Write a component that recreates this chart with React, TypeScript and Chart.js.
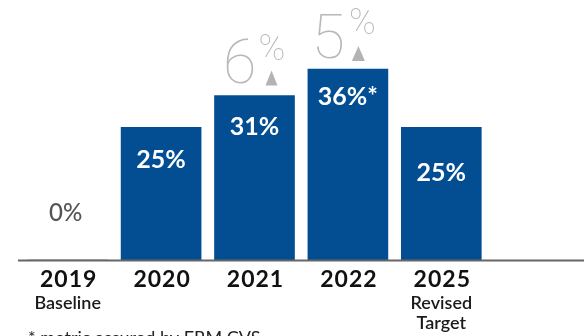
import React, { useEffect, useRef } from "react";
import { Chart, registerables } from "chart.js";

Chart.register(...registerables);

const years = ["2019", "2020", "2021", "2022", "2025"];
const subLabels: string[][] = [["Baseline"], [], [], [], ["Revised", "Target"]];
const values = [0, 25, 31, 36, 25];
const valueLabels = ["0%", "25%", "31%", "36%*", "25%"];
const increaseDigits = ["", "", "6", "5", ""];
const footnote = "* metric assured by ERM CVS";

const BLUE = "#034e93";
const GRAY_LIGHT = "#b8b8b8";
const TRI = "#b3b3b3";

// layout tweaks per bar (styling only)
const labelOffsets = [0, 32.5, 31, 28, 46];
const incStyle: Record<number, any> = {
  2: { dRight: 2, dBase: 13, pctLeft: 4, pctBase: 36, triL: 11, triR: 23, triT: 25, triB: 10 },
  3: { dRight: -3, dBase: 11, pctLeft: 1, pctBase: 35, triL: 4, triR: 17, triT: 23, triB: 8 },
};

const overlay = {
  id: "overlay",
  afterDatasetsDraw(chart: any) {
    const ctx = chart.ctx as CanvasRenderingContext2D;
    const meta = chart.getDatasetMeta(0);
    const area = chart.chartArea;
    ctx.save();
    // baseline axis line
    ctx.strokeStyle = "#666666";
    ctx.lineWidth = 2;
    ctx.beginPath();
    ctx.moveTo(18, area.bottom + 0.5);
    ctx.lineTo(chart.width, area.bottom + 0.5);
    ctx.stroke();

    meta.data.forEach((bar: any, i: number) => {
      const cx = bar.x;
      const ty = bar.y;
      // value labels
      ctx.textAlign = "center";
      ctx.textBaseline = "middle";
      if (values[i] === 0) {
        ctx.fillStyle = "#555555";
        ctx.font = "500 24px Lato";
        ctx.fillText(valueLabels[i], cx - 2, area.bottom - 47);
      } else {
        ctx.fillStyle = "#ffffff";
        ctx.font = "bold 25px Lato";
        ctx.fillText(valueLabels[i], cx, ty + labelOffsets[i]);
      }
      // increase labels
      const s = incStyle[i];
      if (increaseDigits[i] && s) {
        ctx.fillStyle = GRAY_LIGHT;
        ctx.textBaseline = "alphabetic";
        ctx.textAlign = "right";
        ctx.font = "100 61px Roboto";
        ctx.fillText(increaseDigits[i], cx + s.dRight, ty - s.dBase);
        ctx.textAlign = "left";
        ctx.font = "100 36px Roboto";
        ctx.fillText("%", cx + s.pctLeft, ty - s.pctBase);
        ctx.fillStyle = TRI;
        ctx.beginPath();
        ctx.moveTo(cx + (s.triL + s.triR) / 2, ty - s.triT);
        ctx.lineTo(cx + s.triR, ty - s.triB);
        ctx.lineTo(cx + s.triL, ty - s.triB);
        ctx.closePath();
        ctx.fill();
      }
      // x labels
      ctx.textAlign = "center";
      ctx.textBaseline = "alphabetic";
      ctx.fillStyle = "#111111";
      ctx.font = "bold 23px Lato";
      (ctx as any).letterSpacing = "1px";
      ctx.fillText(years[i], cx + 1, 287);
      (ctx as any).letterSpacing = "0px";
      ctx.font = "600 18px Lato";
      ctx.fillStyle = "#1a1a1a";
      subLabels[i].forEach((t, j) => {
        ctx.fillText(t, cx, 309 + j * 20);
      });
    });

    // footnote
    ctx.textAlign = "left";
    ctx.textBaseline = "alphabetic";
    ctx.fillStyle = "#222222";
    ctx.font = "18px Lato";
    ctx.fillText(footnote, 28, 344);
    ctx.restore();
  },
};

export default function App() {
  const ref = useRef<HTMLCanvasElement>(null);
  useEffect(() => {
    document.body.style.margin = "0";
    const chart = new Chart(ref.current!, {
      type: "bar",
      data: {
        labels: years,
        datasets: [
          {
            data: values,
            backgroundColor: BLUE,
            barThickness: 80,
            borderWidth: 0,
          },
        ],
      },
      options: {
        responsive: false,
        maintainAspectRatio: false,
        animation: false,
        layout: { padding: { left: 21, right: 96, top: 0, bottom: 76 } },
        plugins: { legend: { display: false }, tooltip: { enabled: false } },
        scales: {
          x: { display: false, grid: { display: false } },
          y: { display: false, min: 0, max: 49 },
        },
      },
      plugins: [overlay],
    });
    return () => chart.destroy();
  }, []);
  return (
    <div style={{ width: 584, height: 336 }}>
      <canvas ref={ref} width={584} height={336} style={{ display: "block" }} />
    </div>
  );
}
